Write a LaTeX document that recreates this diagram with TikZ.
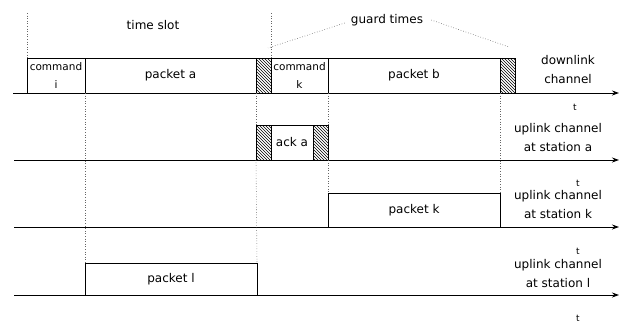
\documentclass[tikz,border=0pt]{standalone}
\usepackage{fontspec}
\setmainfont{DejaVu Sans}
\usetikzlibrary{patterns,arrows.meta}
\begin{document}
\begin{tikzpicture}[x=1pt,y=-1pt,
  box/.style={draw,line width=1pt,inner sep=0pt,outer sep=0pt,anchor=south west,
    font=\fontsize{12}{14}\selectfont},
  hatchbox/.style={box,pattern=north west lines},
  axisline/.style={line width=0.9pt,-{Stealth[length=7pt,width=5pt]}},
  guide/.style={dotted,line width=0.6pt,black!60},
  lbl/.style={font=\fontsize{12}{19}\selectfont,align=center,inner sep=0pt},
  tlbl/.style={font=\fontsize{9}{10}\selectfont,inner sep=0pt}]
\useasboundingbox (0,0) rectangle (623,325);
% row 1: downlink
\node[box,minimum width=58,minimum height=35,align=center,font=\fontsize{10.5}{18}\selectfont] (ci) at (27,93) {command\\i};
\node[box,minimum width=171,minimum height=35] (pa) at (85,93) {packet a};
\node[hatchbox,minimum width=15,minimum height=35] (g1) at (256,93) {};
\node[box,minimum width=57,minimum height=35,align=center,font=\fontsize{10.5}{18}\selectfont] (ck) at (271,93) {command\\k};
\node[box,minimum width=172,minimum height=35] (pb) at (328,93) {packet b};
\node[hatchbox,minimum width=15,minimum height=35] (g2) at (500,93) {};
% row 2: station a
\node[hatchbox,minimum width=15,minimum height=35] (ga1) at (256,160) {};
\node[box,minimum width=42,minimum height=35] (ack) at (271,160) {ack a};
\node[hatchbox,minimum width=15,minimum height=35] (ga2) at (313,160) {};
% row 3: station k
\node[box,minimum width=172,minimum height=34] (pk) at (328,227) {packet k};
% row 4: station l
\node[box,minimum width=172,minimum height=32] (pl) at (85,295) {packet l};
% axes
\coordinate (a1s) at (13,93);  \coordinate (a1e) at (619,93);
\coordinate (a2s) at (14,160); \coordinate (a2e) at (619,160);
\coordinate (a3s) at (14,227); \coordinate (a3e) at (619,227);
\coordinate (a4s) at (14,295); \coordinate (a4e) at (619,295);
\draw[axisline] (a1s) -- (a1e);
\draw[axisline] (a2s) -- (a2e);
\draw[axisline] (a3s) -- (a3e);
\draw[axisline] (a4s) -- (a4e);
% labels
\node[lbl] (ts) at (153,25) {time slot};
\node[lbl] (gt) at (387,20) {guard times};
\node[lbl] (dl) at (568,70) {downlink\\channel};
\node[lbl] (ua) at (558,138) {uplink channel\\at station a};
\node[lbl] (uk) at (558,205) {uplink channel\\at station k};
\node[lbl] (ul) at (558,274) {uplink channel\\at station l};
\node[tlbl] (t1) at (575,107) {t};
\node[tlbl] (t2) at (578,183) {t};
\node[tlbl] (t3) at (578,251) {t};
\node[tlbl] (t4) at (578,318) {t};
% guides
\coordinate (v1) at (27,13);
\coordinate (v2) at (271,13);
\coordinate (gl) at (268,48);
\coordinate (gr) at (509,47);
\draw[guide] (v1) -- (ci.north west);
\draw[guide] (v2) -- (ck.north west);
\draw[guide] (gt.west) ++(-6,3) -- (gl);
\draw[guide] (gt.east) ++(8,0) -- (gr);
\draw[guide] (pa.south west) -- (pl.north west);
\draw[guide] (g1.south west) -- (ga1.north west);
\draw[guide] (ga1.south west) -- (pl.north east);
\draw[guide] (ck.south east) -- (ga2.north east);
\draw[guide] (ga2.south east) -- (pk.north west);
\draw[guide] (pb.south east) -- (pk.north east);
\end{tikzpicture}
\end{document}
